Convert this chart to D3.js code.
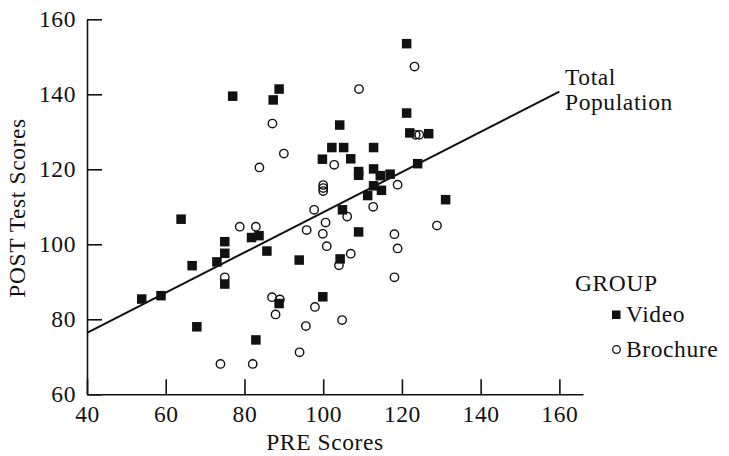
<!DOCTYPE html>
<html>
<head>
<meta charset="utf-8">
<script src="https://cdn.jsdelivr.net/npm/d3@7"></script>
<style>
  html, body { margin: 0; padding: 0; background: #fff; }
  svg { display: block; }
</style>
</head>
<body>
<svg id="chart" width="729" height="456"></svg>
<script>
// ---- Data ----
const videoPre  = [77.0, 88.8, 87.3, 99.8, 121.2, 121.2, 104.2, 122.0, 126.8, 102.2, 105.2, 112.8, 107.0, 109.0, 109.0, 112.8, 114.5, 117.0, 124.0, 112.8, 114.8, 111.3, 131.1, 104.9, 63.9, 75.0, 81.8, 83.7, 75.0, 85.7, 66.7, 73.0, 93.9, 75.0, 53.9, 58.8, 99.9, 88.8, 67.9, 82.9, 109.0, 104.3];
const videoPost = [139.5, 141.4, 138.5, 122.7, 153.5, 135.0, 131.8, 129.7, 129.5, 125.8, 125.8, 125.8, 122.8, 119.4, 118.4, 120.1, 118.3, 118.7, 121.5, 115.6, 114.4, 113.0, 111.9, 109.2, 106.7, 100.7, 101.8, 102.3, 97.6, 98.2, 94.3, 95.3, 95.8, 89.4, 85.4, 86.3, 86.0, 84.2, 78.0, 74.5, 103.3, 96.1];

const brochurePre  = [87.1, 90.0, 83.8, 100.0, 100.0, 100.0, 97.7, 123.2, 109.1, 123.5, 124.4, 102.8, 118.9, 112.7, 78.8, 82.9, 100.6, 95.8, 99.9, 100.9, 75.0, 87.0, 89.0, 87.9, 97.9, 95.6, 94.0, 73.9, 82.1, 106.1, 118.1, 128.9, 118.9, 107.0, 104.0, 118.1, 104.8];
const brochurePost = [132.2, 124.2, 120.5, 115.8, 115.0, 114.2, 109.2, 147.4, 141.4, 129.2, 129.2, 121.2, 115.9, 110.0, 104.7, 104.7, 105.8, 103.8, 102.8, 99.5, 91.2, 85.9, 85.3, 81.3, 83.3, 78.2, 71.2, 68.1, 68.1, 107.4, 102.7, 105.0, 98.9, 97.5, 94.4, 91.2, 79.8];

const fitPre  = [40, 160];
const fitPost = [76.4, 140.7];

const xTicks = [40, 60, 80, 100, 120, 140, 160];
const yTicks = [60, 80, 100, 120, 140, 160];

const xTitle = "PRE Scores";
const yTitle = "POST Test Scores";
const fitLabel = ["Total", "Population"];
const legendTitle = "GROUP";
const groups = ["Video", "Brochure"];

// ---- Chart ----
const svg = d3.select("#chart");
const FS = 23.5;
const LS = 0.6;
const FONT = "'Liberation Serif', Tinos, 'DejaVu Serif', serif";

const x = d3.scaleLinear().domain([40, 166]).range([87, 583]);
const y = d3.scaleLinear().domain([60, 160]).range([394.3, 19.3]);

const xAxis = d3.axisBottom(x).tickValues(xTicks).tickSize(-15).tickSizeOuter(0).tickPadding(11.5);
const yAxis = d3.axisLeft(y).tickValues(yTicks).tickSize(-15).tickSizeOuter(0).tickPadding(11);

const gx = svg.append("g").attr("transform", `translate(0,${y(60)})`).call(xAxis);
const gy = svg.append("g").attr("transform", `translate(${x(40)},0)`).call(yAxis);

[gx, gy].forEach(g => {
  g.attr("font-family", FONT).attr("font-size", FS);
  g.selectAll("path, line").attr("stroke", "#111").attr("stroke-width", 1.6);
  g.selectAll("text").attr("fill", "#111").attr("letter-spacing", LS);
});

function label(sel) {
  return sel.attr("font-family", FONT).attr("font-size", FS).attr("letter-spacing", LS).attr("fill", "#111");
}

// axis titles
label(svg.append("text"))
  .attr("x", 325).attr("y", 450)
  .attr("text-anchor", "middle")
  .text(xTitle);

label(svg.append("text"))
  .attr("transform", `translate(25,208) rotate(-90)`)
  .attr("text-anchor", "middle")
  .text(yTitle);

// regression line
svg.append("path")
  .datum(fitPre.map((d, i) => [d, fitPost[i]]))
  .attr("fill", "none")
  .attr("stroke", "#111")
  .attr("stroke-width", 2)
  .attr("d", d3.line().x(d => x(d[0])).y(d => y(d[1])));

const fitText = label(svg.append("text"));
fitText.append("tspan").attr("x", 565).attr("y", 85).text(fitLabel[0]);
fitText.append("tspan").attr("x", 565).attr("y", 110).text(fitLabel[1]);

// points
const SQ = 9.5;
const video = videoPre.map((d, i) => ({ pre: d, post: videoPost[i] }));
const brochure = brochurePre.map((d, i) => ({ pre: d, post: brochurePost[i] }));

svg.append("g").selectAll("circle")
  .data(brochure).join("circle")
  .attr("cx", d => x(d.pre)).attr("cy", d => y(d.post))
  .attr("r", 4.2)
  .attr("fill", "none")
  .attr("stroke", "#111")
  .attr("stroke-width", 1.4);

svg.append("g").selectAll("rect")
  .data(video).join("rect")
  .attr("x", d => x(d.pre) - SQ / 2).attr("y", d => y(d.post) - SQ / 2)
  .attr("width", SQ).attr("height", SQ)
  .attr("fill", "#111");

// legend
label(svg.append("text")).attr("x", 575).attr("y", 291).text(legendTitle);
const lg = svg.append("g");
lg.append("rect").attr("x", 612).attr("y", 310.5).attr("width", 8.5).attr("height", 8.5).attr("fill", "#111");
label(lg.append("text")).attr("x", 626).attr("y", 322).text(groups[0]);
lg.append("circle").attr("cx", 616.5).attr("cy", 349.5).attr("r", 3.8).attr("fill", "none").attr("stroke", "#111").attr("stroke-width", 1.3);
label(lg.append("text")).attr("x", 626).attr("y", 357).text(groups[1]);
</script>
</body>
</html>
